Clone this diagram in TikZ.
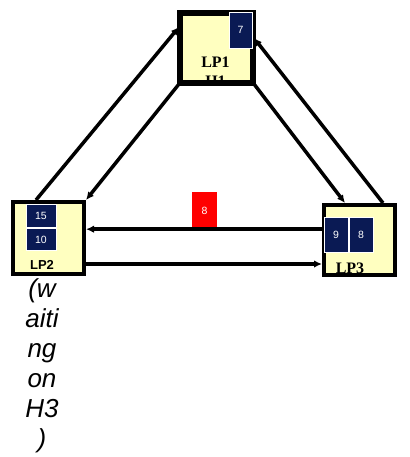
\documentclass[tikz,border=0pt]{standalone}
\usepackage{fontspec}
\setmainfont{Liberation Serif}
\setsansfont{Liberation Sans}
\usetikzlibrary{arrows.meta}
\definecolor{lpyellow}{RGB}{255,255,192}
\definecolor{jobnavy}{RGB}{10,26,84}
\begin{document}
\begin{tikzpicture}[x=1pt, y=-1pt,
  lpbox/.style={draw, line width=4pt, fill=lpyellow, inner sep=0pt, minimum width=71pt},
  jobbox/.style={draw=white, line width=0.8pt, fill=jobnavy, text=white, inner sep=0pt,
                 font=\sffamily\fontsize{10.5}{12}\selectfont},
  msgbox/.style={fill=red, text=white, inner sep=0pt, minimum width=25pt, minimum height=37pt,
                 font=\sffamily\fontsize{10.5}{12}\selectfont},
  seriflabel/.style={inner sep=0pt, align=center, font=\bfseries\fontsize{16}{19}\selectfont},
  link/.style={line width=3.5pt, -{Latex[length=8pt,width=7.5pt]}},
]
  \useasboundingbox (0,0) rectangle (409,457);

  % Processes
  \node[lpbox, minimum height=68pt] (lp1) at (216.5,48) {};
  \begin{scope}
    \clip (lp1.south west) rectangle (lp1.north east);
    \node[seriflabel] (lp1txt) at (215.5,72) {LP1\\H1};
  \end{scope}
  \draw[line width=4pt] (lp1.south west) rectangle (lp1.north east);
  \node[lpbox, minimum height=72pt] (lp2) at (48.5,238) {};
  \node[lpbox, minimum height=70pt] (lp3) at (359.5,240) {};

  % Labels
  \node[inner sep=0pt, font=\sffamily\bfseries\fontsize{13}{15}\selectfont] (lp2txt) at (42,264.5) {LP2};
  \node[seriflabel] (lp3txt) at (350,268) {LP3};

  % Jobs
  \node[jobbox, minimum width=23pt, minimum height=36pt] (j7) at (240.5,30) {7};
  \node[jobbox, minimum width=30pt, minimum height=22.5pt] (j15) at (41,216) {15};
  \node[jobbox, minimum width=30pt, minimum height=22.5pt] (j10) at (41,239.5) {10};
  \node[jobbox, minimum width=24pt, minimum height=35pt] (j9) at (336,234.5) {9};
  \node[jobbox, minimum width=24pt, minimum height=35pt] (j8) at (361,234.5) {8};

  % Message
  \node[msgbox] (msg) at (204.5,210.5) {8};

  % Arrows
  \draw[link] ([xshift=-12.5pt]lp2.north) -- ([yshift=21pt]lp1.west);
  \draw[link] (lp1.south west) -- (lp2.north east);
  \draw[link] (lp1.south east) -- ([xshift=-14.5pt]lp3.north);
  \draw[link] ([xshift=23.5pt]lp3.north) -- ([yshift=10pt]lp1.east);
  \draw[link] (lp3.west |- msg.south) -- (lp2.east |- msg.south);
  \draw[link] ([yshift=-26pt]lp2.east) -- ([yshift=-24pt]lp3.west);

  % Note
  \node[inner sep=0pt, anchor=north, align=center,
        font=\sffamily\itshape\fontsize{26}{30}\selectfont] (wait) at (42,278)
        {(w\\aiti\\ng\\on\\H3\\)};
\end{tikzpicture}
\end{document}
